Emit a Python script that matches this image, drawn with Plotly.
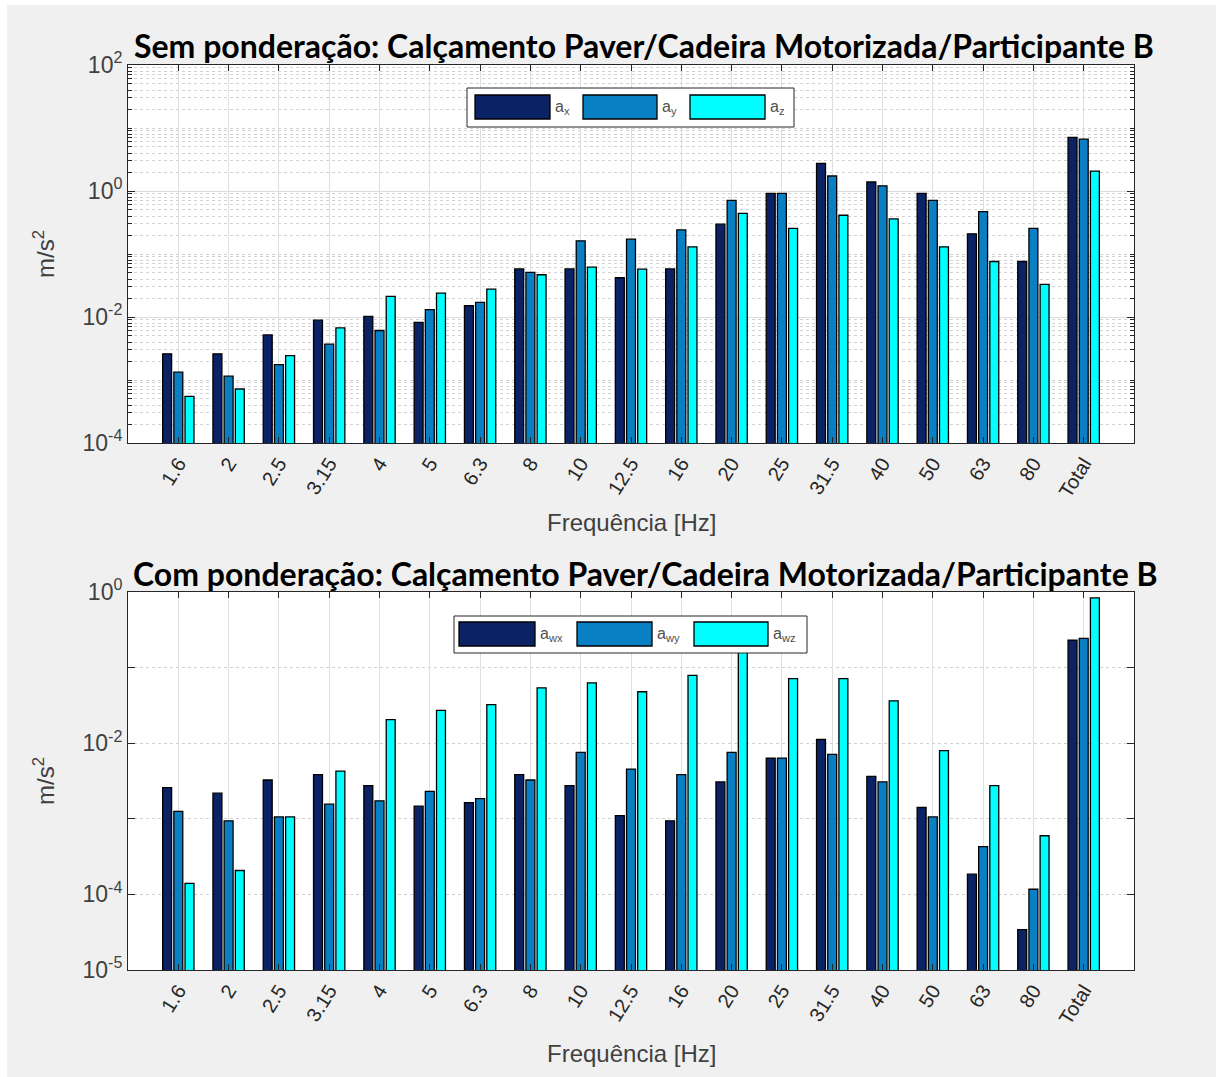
import plotly.graph_objects as go
from plotly.subplots import make_subplots

# ---------------- data ----------------
freq_labels = ["1.6", "2", "2.5", "3.15", "4", "5", "6.3", "8", "10", "12.5",
               "16", "20", "25", "31.5", "40", "50", "63", "80", "Total"]

# Sem ponderação (unweighted), m/s^2
ax_unw = [2.6e-3, 2.6e-3, 5.2e-3, 8.9e-3, 1.02e-2, 8.2e-3, 1.51e-2, 5.8e-2, 5.8e-2, 4.2e-2,
          5.8e-2, 0.297, 0.918, 2.74, 1.39, 0.918, 0.209, 0.076, 7.08]
ay_unw = [1.33e-3, 1.15e-3, 1.76e-3, 3.7e-3, 6.1e-3, 1.31e-2, 1.71e-2, 5.1e-2, 0.162, 0.172,
          0.241, 0.711, 0.918, 1.73, 1.21, 0.711, 0.471, 0.256, 6.65]
az_unw = [5.5e-4, 7.2e-4, 2.44e-3, 6.7e-3, 2.12e-2, 2.4e-2, 2.77e-2, 4.68e-2, 6.2e-2, 5.75e-2,
          0.13, 0.443, 0.256, 0.412, 0.36, 0.13, 0.076, 0.033, 2.07]

# Com ponderação (weighted), m/s^2
awx = [2.58e-3, 2.18e-3, 3.26e-3, 3.83e-3, 2.75e-3, 1.47e-3, 1.64e-3, 3.83e-3, 2.75e-3, 1.1e-3,
       9.4e-4, 3.07e-3, 6.35e-3, 1.12e-2, 3.64e-3, 1.41e-3, 1.85e-4, 3.43e-5, 0.231]
awy = [1.25e-3, 9.4e-4, 1.06e-3, 1.56e-3, 1.73e-3, 2.31e-3, 1.85e-3, 3.26e-3, 7.54e-3, 4.55e-3,
       3.83e-3, 7.54e-3, 6.35e-3, 7.1e-3, 3.07e-3, 1.06e-3, 4.28e-4, 1.17e-4, 0.243]
awz = [1.4e-4, 2.07e-4, 1.06e-3, 4.28e-3, 2.05e-2, 2.71e-2, 3.23e-2, 5.4e-2, 6.29e-2, 4.79e-2,
       7.9e-2, 0.2, 7.16e-2, 7.16e-2, 3.64e-2, 8.0e-3, 2.75e-3, 5.97e-4, 0.834]

top_names = ["a<sub>x</sub>", "a<sub>y</sub>", "a<sub>z</sub>"]
bot_names = ["a<sub>wx</sub>", "a<sub>wy</sub>", "a<sub>wz</sub>"]
colors = ["#0b2265", "#0a80c4", "#00ffff"]

title_top = "Sem ponderação: Calçamento Paver/Cadeira Motorizada/Participante B"
title_bot = "Com ponderação: Calçamento Paver/Cadeira Motorizada/Participante B"
xlabel = "Frequência [Hz]"
ylabel = "m/s<sup>2</sup>"

top_tickvals = [1e-4, 1e-2, 1e0, 1e2]
top_ticktext = ["10<sup>-4</sup>", "10<sup>-2</sup>", "10<sup>0</sup>", "10<sup>2</sup>"]
bot_tickvals = [1e-5, 1e-4, 1e-2, 1e0]
bot_ticktext = ["10<sup>-5</sup>", "10<sup>-4</sup>", "10<sup>-2</sup>", "10<sup>0</sup>"]

# ---------------- layout helpers ----------------
W, H = 1216, 1077
def fx(p):
    return p / W
def fy(p):
    return 1 - p / H

fig = make_subplots(rows=2, cols=1)

for vals, name, col in zip([ax_unw, ay_unw, az_unw], top_names, colors):
    fig.add_trace(go.Bar(x=freq_labels, y=vals, name=name, marker_color=col,
                         marker_line=dict(color="black", width=1.3), showlegend=False),
                  row=1, col=1)
for vals, name, col in zip([awx, awy, awz], bot_names, colors):
    fig.add_trace(go.Bar(x=freq_labels, y=vals, name=name, marker_color=col,
                         marker_line=dict(color="black", width=1.3), showlegend=False),
                  row=2, col=1)

xdom = [fx(128), fx(1134)]
axis_line = "#262626"
tickfont_x = dict(family="Liberation Sans, Arial, sans-serif", size=20, color="#262626")
tickfont_y = dict(family="Liberation Sans, Arial, sans-serif", size=23, color="#404040")

xcommon = dict(type="category", range=[-1, 19], showgrid=True, gridcolor="#dfdfdf",
               gridwidth=1, ticks="inside", ticklen=6, tickcolor=axis_line,
               showline=True, linecolor=axis_line, linewidth=1, mirror="ticks",
               tickangle=-58, tickfont=tickfont_x, zeroline=False, automargin=False)

fig.update_layout(
    xaxis=dict(domain=xdom, anchor="y", **xcommon),
    xaxis2=dict(domain=xdom, anchor="y2", **xcommon),
)

# minor ticks top plot: 2..9 per decade plus odd decades
minor_top = []
for e in range(-4, 2):
    for m in range(2, 10):
        minor_top.append(m * 10.0 ** e)
for e in [-3, -1, 1]:
    minor_top.append(10.0 ** e)

fig.update_layout(
    yaxis=dict(domain=[fy(443), fy(65)], type="log", range=[-4, 2],
               tickvals=top_tickvals, ticktext=top_ticktext, tickfont=tickfont_y,
               showgrid=True, gridcolor="#dcdcdc", gridwidth=1,
               ticks="inside", ticklen=7, tickcolor=axis_line,
               showline=True, linecolor=axis_line, linewidth=1, mirror="ticks",
               zeroline=False, automargin=False,
               minor=dict(tickvals=minor_top, showgrid=True, gridcolor="#d2d2d2",
                          griddash="dot", gridwidth=1, ticks="inside", ticklen=4,
                          tickcolor=axis_line)),
    yaxis2=dict(domain=[fy(970), fy(592)], type="log", range=[-5, 0],
                tickvals=bot_tickvals, ticktext=bot_ticktext, tickfont=tickfont_y,
                showgrid=True, gridcolor="#d0d0d0", gridwidth=1, griddash="dot",
                ticks="inside", ticklen=7, tickcolor=axis_line,
                showline=True, linecolor=axis_line, linewidth=1, mirror="ticks",
                zeroline=False, automargin=False,
                minor=dict(tickvals=[1e-3, 1e-1], showgrid=True, gridcolor="#d0d0d0",
                           griddash="dot", gridwidth=1, ticks="inside", ticklen=7,
                           tickcolor=axis_line)),
)

fig.update_layout(
    width=W, height=H,
    margin=dict(l=0, r=0, t=0, b=0, pad=0, autoexpand=False),
    paper_bgcolor="#f0f0f0",
    plot_bgcolor="white",
    barmode="group",
    bargap=0.333,
    bargroupgap=0.2,
    showlegend=False,
)

annotations = []
title_font = dict(family="Lato, Noto Sans, sans-serif", size=32, color="black")
annotations.append(dict(text="<b>" + title_top + "</b>", x=fx(644), y=fy(45), xref="paper",
                        yref="paper", showarrow=False, xanchor="center", yanchor="middle",
                        font=title_font))
annotations.append(dict(text="<b>" + title_bot + "</b>", x=fx(645), y=fy(573), xref="paper",
                        yref="paper", showarrow=False, xanchor="center", yanchor="middle",
                        font=title_font))
lab_font = dict(family="Liberation Sans, Arial, sans-serif", size=24, color="#404040")
for yc in [522, 1053]:
    annotations.append(dict(text=xlabel, x=fx(631), y=fy(yc), xref="paper", yref="paper",
                            showarrow=False, xanchor="center", yanchor="middle", font=lab_font))
for yc in [254, 781]:
    annotations.append(dict(text=ylabel, x=fx(44), y=fy(yc), xref="paper", yref="paper",
                            showarrow=False, xanchor="center", yanchor="middle",
                            textangle=-90, font=lab_font))

# thin white border at top/left of the screenshot
shapes = [
    dict(type="rect", xref="paper", yref="paper", x0=0, x1=1, y0=fy(5), y1=1,
         fillcolor="white", line=dict(width=0), layer="above"),
    dict(type="rect", xref="paper", yref="paper", x0=0, x1=fx(7), y0=0, y1=1,
         fillcolor="white", line=dict(width=0), layer="above"),
]
leg_font = dict(family="Liberation Sans, Arial, sans-serif", size=16, color="#505050")

def add_legend(box, rects, labx, names):
    x0, y0, x1, y1 = box
    shapes.append(dict(type="rect", xref="paper", yref="paper", x0=fx(x0), x1=fx(x1),
                       y0=fy(y1), y1=fy(y0), fillcolor="white",
                       line=dict(color="#262626", width=1), layer="above"))
    for (rx0, ry0, rx1, ry1), col, lx, nm in zip(rects, colors, labx, names):
        shapes.append(dict(type="rect", xref="paper", yref="paper", x0=fx(rx0), x1=fx(rx1),
                           y0=fy(ry1), y1=fy(ry0), fillcolor=col,
                           line=dict(color="black", width=1.3), layer="above"))
        annotations.append(dict(text=nm, x=fx(lx), y=fy((ry0 + ry1) / 2), xref="paper",
                                yref="paper", showarrow=False, xanchor="left",
                                yanchor="middle", font=leg_font))

add_legend((467, 88, 794, 127),
           [(475, 95, 550, 119), (583, 95, 657, 119), (690, 95, 765, 119)],
           [553, 660, 768], top_names)
add_legend((454, 616, 807, 653),
           [(459, 622, 535, 646), (577, 622, 652, 646), (694, 622, 768, 646)],
           [538, 655, 771], bot_names)

fig.update_layout(annotations=annotations, shapes=shapes)

fig.write_html("out.html")
